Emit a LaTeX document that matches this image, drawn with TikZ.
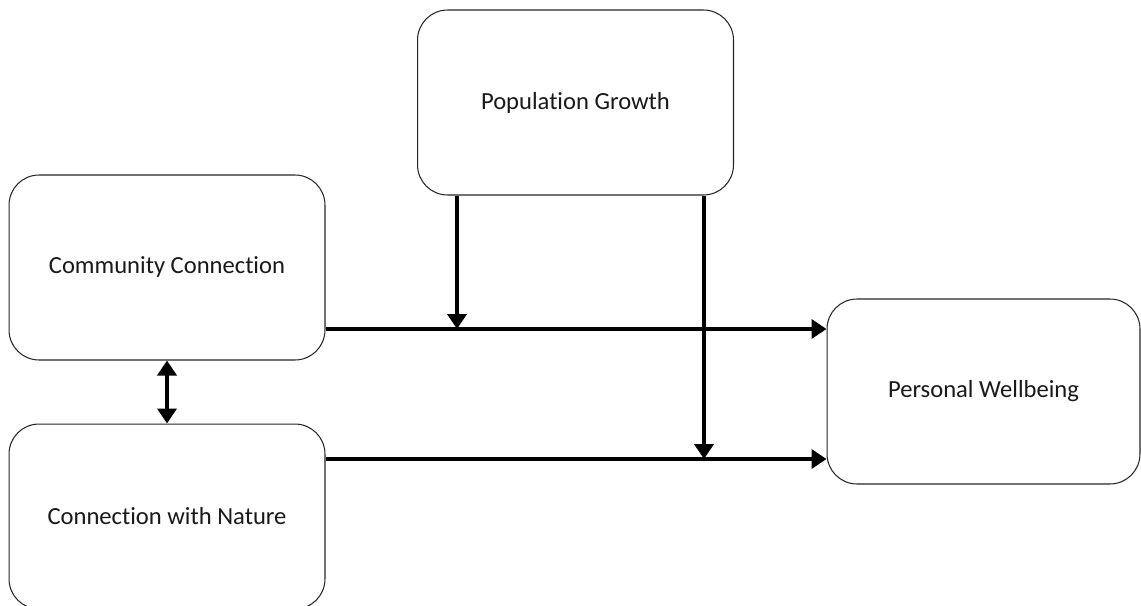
\documentclass[tikz,border=0pt]{standalone}
\usepackage{fontspec}
\setmainfont{Carlito}[Ligatures=NoCommon]
\usetikzlibrary{arrows.meta, positioning, calc}

\begin{document}
\begin{tikzpicture}[
      x=0.02cm, y=-0.02cm,
      node distance=1.26cm,
      factor/.style={rectangle, rounded corners=0.6cm, draw=black!85, line width=0.6pt,
        fill=white, minimum width=6.32cm, minimum height=3.7cm, align=center,
        font=\fontsize{14}{17}\selectfont, text=black!90, inner sep=2pt},
      arrow/.style={-{Triangle[length=0.3cm, width=0.38cm]}, line width=2.5pt},
      twoway/.style={{Triangle[length=0.3cm, width=0.38cm]}-{Triangle[length=0.3cm, width=0.38cm]},
        line width=2.5pt}
    ]
    \useasboundingbox (0,0) rectangle (1141,605);

    % ---- boxes ----
    \node[factor] (pop)  at (575.5,102.5) {Population Growth};
    \node[factor] (comm) at (167,267.5)   {Community Connection};
    \node[factor, below=of comm] (nat)    {Connection with Nature};
    \node[factor, minimum width=6.26cm] (well) at (983.5,391.5) {Personal Wellbeing};

    % ---- main paths into wellbeing ----
    \coordinate (cin) at ($(comm.east)+(0,61.5)$);
    \coordinate (nin) at ($(nat.east)+(0,-57.5)$);
    \draw[arrow] (cin) -- (well.west |- cin);
    \draw[arrow] (nin) -- (well.west |- nin);

    % population growth moderates both paths
    \coordinate (pl) at ($(pop.south west)+(40,0)$);
    \coordinate (pr) at ($(pop.south east)+(-30,0)$);
    \draw[arrow] (pl) -- (pl |- cin);
    \draw[arrow] (pr) -- (pr |- nin);

    % community and nature are linked
    \draw[twoway] (comm.south) -- (nat.north);
  \end{tikzpicture}
\end{document}
